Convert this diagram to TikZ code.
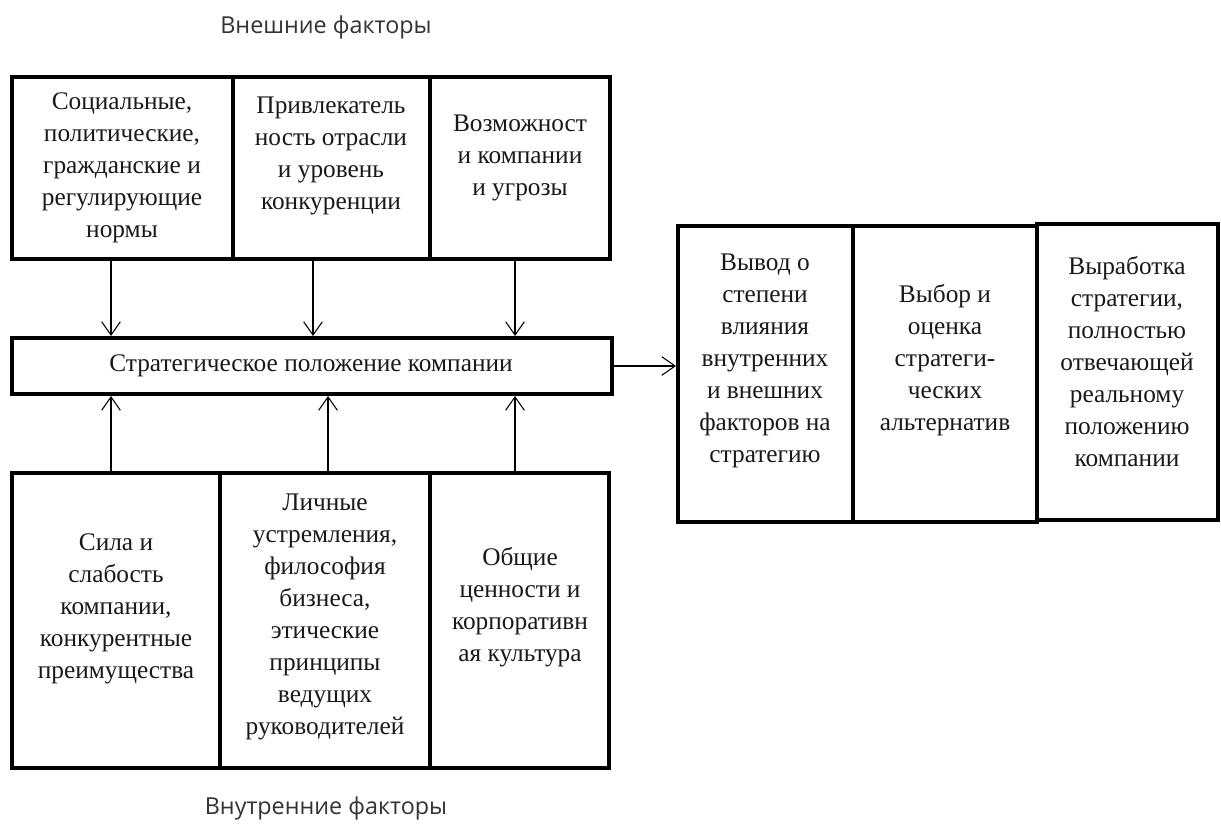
\documentclass[tikz,border=0pt]{standalone}
\usepackage{fontspec}
\setmainfont{Liberation Serif}
\newfontfamily\labfont{Open Sans}
\usetikzlibrary{arrows.meta,fit}
\begin{document}
\begin{tikzpicture}[x=0.75pt,y=-0.75pt,
  cell/.style={draw=black, line width=3pt, inner sep=0pt},
  txt/.style={align=center, font=\fontsize{19}{24}\selectfont, inner sep=0pt, text=black!90},
  arr/.style={line width=0.8pt, -{Straight Barb[length=10pt,width=14pt,line width=0.8pt]}},
  lab/.style={font=\labfont\fontsize{17.5}{21}\selectfont, text=black!80, inner sep=0pt}]
\useasboundingbox (0,0) rectangle (1221,831);
\fill[white] (0,0) rectangle (1221,831);

% top row
\node[cell, fit={(12,77) (233,259)}] (t1) {};
\node[cell, fit={(233,77) (430,259)}] (t2) {};
\node[cell, fit={(430,77) (610,259)}] (t3) {};
% middle
\node[cell, fit={(12,338) (612,394)}] (m) {};
% bottom row
\node[cell, fit={(12,473) (220,768)}] (b1) {};
\node[cell, fit={(220,473) (430,768)}] (b2) {};
\node[cell, fit={(430,473) (609,768)}] (b3) {};
% right group
\node[cell, fit={(678,226) (853,522)}] (r1) {};
\node[cell, fit={(853,226) (1037,522)}] (r2) {};
\node[cell, fit={(1037,224) (1218,520)}] (r3) {};

% texts
\node[txt] (tt1) at (122,168) {Социальные,\\политические,\\гражданские и\\регулирующие\\нормы};
\node[txt] (tt2) at (331,156) {Привлекатель\\ность отрасли\\и уровень\\конкуренции};
\node[txt] (tt3) at (520,158) {Возможност\\и компании\\и угрозы};
\node[txt] (mt) at (311,366) {Стратегическое положение компании};
\node[txt] (bt1) at (116,609) {Сила и\\слабость\\компании,\\конкурентные\\преимущества};
\node[txt] (bt2) at (325,617) {Личные\\устремления,\\философия\\бизнеса,\\этические\\принципы\\ведущих\\руководителей};
\node[txt] (bt3) at (520,607) {Общие\\ценности и\\корпоративн\\ая культура};
\node[txt] (rt1) at (765,361) {Вывод о\\степени\\влияния\\внутренних\\и внешних\\факторов на\\стратегию};
\node[txt] (rt2) at (945,360) {Выбор и\\оценка\\стратеги-\\ческих\\альтернатив};
\node[txt] (rt3) at (1127,362) {Выработка\\стратегии,\\полностью\\отвечающей\\реальному\\положению\\компании};

% labels
\node[lab] (ext) at (326,27) {Внешние факторы};
\node[lab] (int) at (326,808) {Внутренние факторы};

% arrow columns
\coordinate (ax1) at (111,0);
\coordinate (ax2) at (313,0);
\coordinate (ax3) at (515,0);
\coordinate (bx1) at (111,0);
\coordinate (bx2) at (328,0);
\coordinate (bx3) at (515,0);

\draw[arr] (t1.south -| ax1) -- (m.north -| ax1);
\draw[arr] (t2.south -| ax2) -- (m.north -| ax2);
\draw[arr] (t3.south -| ax3) -- (m.north -| ax3);
\draw[arr] (b1.north -| bx1) -- (m.south -| bx1);
\draw[arr] (b2.north -| bx2) -- (m.south -| bx2);
\draw[arr] (b3.north -| bx3) -- (m.south -| bx3);
\draw[arr] (m.east) -- (m.east -| r1.west);
\end{tikzpicture}
\end{document}
